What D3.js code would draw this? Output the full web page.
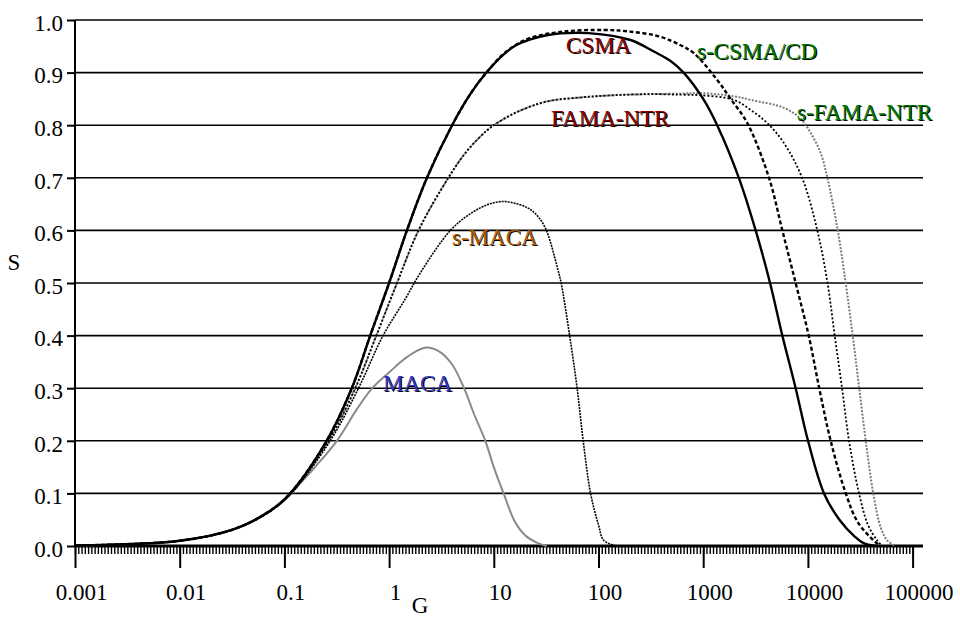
<!DOCTYPE html>
<html>
<head>
<meta charset="utf-8">
<script src="https://cdnjs.cloudflare.com/ajax/libs/d3/7.8.5/d3.min.js"></script>
<style>
  body { margin: 0; background: #fff; }
  svg text { font-family: "Liberation Serif", "Times New Roman", Times, "DejaVu Serif", serif; }
</style>
</head>
<body>
<script>
// offered load G (log axis) and throughput S
const csmaG = [0.001, 0.01, 0.033, 0.068, 0.11, 0.25, 0.44, 0.66, 1.0, 1.48, 2.3, 4, 6, 8.5, 12, 16, 22.4, 32, 50, 80, 202, 338, 488, 650, 1000, 1360, 2190, 3170, 4350, 5700, 7640, 10030, 14250, 20000, 28000, 34400, 46100]
const csmaS = [0.001, 0.0099, 0.032, 0.063, 0.097, 0.198, 0.30, 0.40, 0.50, 0.60, 0.70, 0.80, 0.86, 0.90, 0.932, 0.951, 0.963, 0.971, 0.975, 0.975, 0.962, 0.94, 0.922, 0.90, 0.85, 0.80, 0.70, 0.60, 0.50, 0.40, 0.30, 0.20, 0.10, 0.05, 0.018, 0.005, 0]

const sCsmaCdG = [0.001, 0.01, 0.033, 0.068, 0.11, 0.25, 0.44, 0.66, 1.0, 1.48, 2.3, 4, 6, 8.5, 12, 16, 22.4, 46, 112, 200, 392, 608, 815, 1360, 1830, 2640, 4250, 5700, 7640, 10180, 12830, 16500, 23000, 30000, 42800, 49700]
const sCsmaCdS = [0.001, 0.0099, 0.032, 0.063, 0.097, 0.198, 0.30, 0.40, 0.50, 0.60, 0.70, 0.80, 0.86, 0.90, 0.933, 0.952, 0.966, 0.978, 0.981, 0.978, 0.968, 0.952, 0.937, 0.886, 0.85, 0.804, 0.70, 0.60, 0.50, 0.40, 0.30, 0.20, 0.10, 0.045, 0.01, 0]

const famaG = [0.001, 0.01, 0.033, 0.068, 0.11, 0.264, 0.475, 0.755, 1.19, 1.91, 3.68, 5.5, 8.6, 12, 18, 32, 70, 140, 300, 608, 944, 1970, 2840, 4100, 5910, 8800, 12300, 15400, 18030, 21200, 24700, 30800, 37500, 46100, 51500]
const famaS = [0.001, 0.0099, 0.032, 0.062, 0.096, 0.2, 0.3, 0.4, 0.5, 0.6, 0.7, 0.75, 0.79, 0.81, 0.828, 0.845, 0.853, 0.857, 0.859, 0.858, 0.857, 0.848, 0.829, 0.804, 0.766, 0.70, 0.60, 0.50, 0.40, 0.30, 0.20, 0.10, 0.04, 0.01, 0]

const sFamaG = [0.001, 0.01, 0.033, 0.068, 0.11, 0.264, 0.475, 0.755, 1.19, 1.91, 3.68, 5.5, 8.6, 12, 18, 32, 70, 140, 300, 608, 944, 1970, 2840, 5910, 8530, 10640, 13250, 15350, 19280, 22960, 26790, 30920, 35700, 42100, 49660, 57600, 69100]
const sFamaS = [0.001, 0.0099, 0.032, 0.062, 0.096, 0.2, 0.3, 0.4, 0.5, 0.6, 0.7, 0.75, 0.79, 0.81, 0.828, 0.845, 0.853, 0.857, 0.859, 0.86, 0.861, 0.855, 0.848, 0.833, 0.812, 0.785, 0.747, 0.70, 0.60, 0.50, 0.40, 0.30, 0.20, 0.10, 0.035, 0.01, 0]

const sMacaG = [0.001, 0.01, 0.033, 0.068, 0.11, 0.274, 0.51, 0.875, 1.43, 2, 3.85, 6, 9, 12.5, 17, 21, 24, 27.5, 31, 34.5, 38, 41, 44, 53, 62.5, 71.4, 84, 100, 112, 146]
const sMacaS = [0.001, 0.0099, 0.032, 0.062, 0.095, 0.2, 0.3, 0.4, 0.47, 0.52, 0.6, 0.632, 0.65, 0.655, 0.65, 0.643, 0.635, 0.622, 0.605, 0.58, 0.55, 0.525, 0.5, 0.4, 0.3, 0.2, 0.1, 0.04, 0.011, 0]

const macaG = [0.001, 0.01, 0.033, 0.068, 0.11, 0.14, 0.2, 0.317, 0.5, 0.69, 1, 1.5, 2.2, 3, 4, 5.2, 6.5, 8.3, 10, 12.4, 16, 20, 26, 32]
const macaS = [0.001, 0.0099, 0.032, 0.062, 0.095, 0.118, 0.152, 0.2, 0.262, 0.3, 0.33, 0.36, 0.377, 0.37, 0.345, 0.3, 0.25, 0.2, 0.15, 0.1, 0.045, 0.02, 0.006, 0]

const xTickValues = [0.001, 0.01, 0.1, 1, 10, 100, 1000, 10000, 100000]
const xTickLabels = ['0.001', '0.01', '0.1', '1', '10', '100', '1000', '10000', '100000']
const yTickValues = [0, 0.1, 0.2, 0.3, 0.4, 0.5, 0.6, 0.7, 0.8, 0.9, 1.0]
const minorPerDecade = 32

const width = 960
const height = 617
const plotLeft = 75
const plotRight = 923
const plotTop = 20
const plotBottom = 546
const serif = '"Liberation Serif", "Times New Roman", Times, "DejaVu Serif", serif'

const svg = d3.select('body').append('svg')
  .attr('width', width)
  .attr('height', height)
  .attr('font-family', serif)

svg.append('rect').attr('width', width).attr('height', height).attr('fill', '#fff')

const x = d3.scaleLog().domain([0.001, 100000]).range([plotLeft, 912.6])
const y = d3.scaleLinear().domain([0, 1]).range([plotBottom, plotTop])

// horizontal grid lines
svg.append('g')
  .selectAll('line')
  .data(yTickValues)
  .join('line')
  .attr('x1', plotLeft)
  .attr('x2', plotRight)
  .attr('y1', d => y(d))
  .attr('y2', d => y(d))
  .attr('stroke', '#000')
  .attr('stroke-width', 1.6)

// y axis
const yAxis = svg.append('g')
  .attr('transform', `translate(${plotLeft},0)`)
  .call(d3.axisLeft(y).tickValues(yTickValues).tickSize(8).tickFormat(d3.format('.1f')))
yAxis.attr('font-family', serif)
yAxis.select('.domain').attr('stroke-width', 2).attr('d', `M0,${plotTop}V${plotBottom}`)
yAxis.selectAll('.tick line').attr('stroke-width', 2)
yAxis.selectAll('.tick text')
  .attr('x', -12)
  .attr('dy', '0.45em')
  .attr('font-size', 23)
  .attr('fill', '#000')

// x axis, minor ticks first
const minorValues = d3.range(0, 8 * minorPerDecade + 1).map(i => Math.pow(10, -3 + i / minorPerDecade))
const xMinor = svg.append('g')
  .attr('transform', `translate(0,${plotBottom})`)
  .call(d3.axisBottom(x).tickValues(minorValues).tickSize(8).tickFormat(''))
xMinor.select('.domain').remove()
xMinor.selectAll('.tick line').attr('stroke-width', 1.4)

const xAxis = svg.append('g')
  .attr('transform', `translate(0,${plotBottom})`)
  .call(d3.axisBottom(x).tickValues(xTickValues).tickSize(22).tickFormat((d, i) => xTickLabels[i]))
xAxis.attr('font-family', serif)
xAxis.select('.domain').attr('stroke-width', 3).attr('d', `M${plotLeft},0H${plotRight}`)
xAxis.selectAll('.tick line').attr('stroke-width', 2)
xAxis.selectAll('.tick text')
  .attr('y', 38)
  .attr('dy', '0.71em')
  .attr('dx', 6)
  .attr('font-size', 23)
  .attr('fill', '#000')

// axis titles
svg.append('text').attr('x', 420).attr('y', 613).attr('text-anchor', 'middle')
  .attr('font-size', 23).text('G')
svg.append('text').attr('x', 14).attr('y', 270).attr('text-anchor', 'middle')
  .attr('font-size', 23).text('S')

// curves (centripetal Catmull-Rom keeps them smooth without overshoot)
const line = d3.line()
  .x(d => x(d[0]))
  .y(d => y(d[1]))
  .curve(d3.curveCatmullRom.alpha(0.5))

const series = [
  { g: macaG, s: macaS, color: '#8a8a8a', w: 2, dash: null },
  { g: sFamaG, s: sFamaS, color: '#7a7a7a', w: 2, dash: '2,1.5' },
  { g: famaG, s: famaS, color: '#000', w: 1.8, dash: '2,2' },
  { g: sMacaG, s: sMacaS, color: '#000', w: 1.6, dash: '2,1' },
  { g: sCsmaCdG, s: sCsmaCdS, color: '#000', w: 2.4, dash: '4,2.5' },
  { g: csmaG, s: csmaS, color: '#000', w: 2.4, dash: null }
]

series.forEach(sr => {
  svg.append('path')
    .datum(d3.zip(sr.g, sr.s))
    .attr('fill', 'none')
    .attr('stroke', sr.color)
    .attr('stroke-width', sr.w)
    .attr('stroke-dasharray', sr.dash)
    .attr('d', line)
})

// curve labels with a dark drop shadow
const labels = [
  { text: 'CSMA', x: 566, y: 53, color: '#8b0000' },
  { text: 's-CSMA/CD', x: 697, y: 59, color: '#007a00' },
  { text: 'FAMA-NTR', x: 551, y: 126, color: '#8b0000' },
  { text: 's-FAMA-NTR', x: 797, y: 120, color: '#007a00' },
  { text: 's-MACA', x: 452, y: 245, color: '#b05a00' },
  { text: 'MACA', x: 383, y: 391, color: '#3535c8' }
]

const lab = svg.append('g').attr('font-size', 23)
lab.selectAll('text.shadow')
  .data(labels)
  .join('text')
  .attr('class', 'shadow')
  .attr('x', d => d.x + 1)
  .attr('y', d => d.y + 1)
  .attr('fill', '#000')
  .text(d => d.text)
lab.selectAll('text.fg')
  .data(labels)
  .join('text')
  .attr('class', 'fg')
  .attr('x', d => d.x)
  .attr('y', d => d.y)
  .attr('fill', d => d.color)
  .text(d => d.text)
</script>
</body>
</html>
